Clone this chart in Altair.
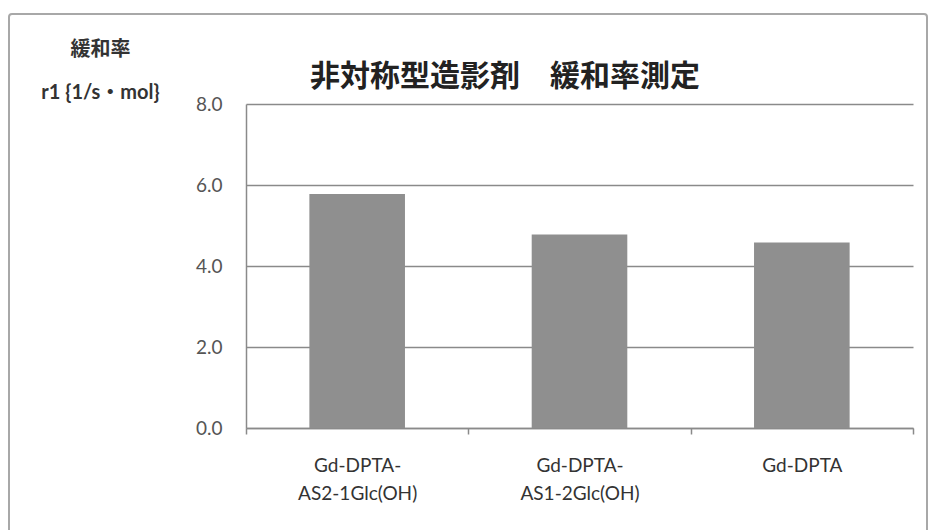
import altair as alt
import pandas as pd

categories = ["Gd-DPTA-AS2-1Glc(OH)", "Gd-DPTA-AS1-2Glc(OH)", "Gd-DPTA"]
values = [5.78, 4.78, 4.58]
y_ticks = [0, 2, 4, 6, 8]
chart_title = "非対称型造影剤　緩和率測定"

df = pd.DataFrame({"cat": categories, "r1": values})

CJK = "Noto Sans CJK JP"
LAT = "Lato, Noto Sans CJK JP"
L, T = 246, 104
W, H = 667, 324

bars = alt.Chart(df).mark_bar(color="#8f8f8f", width=alt.RelativeBandSize(0.43)).encode(
    x=alt.X(
        "cat:N",
        sort=categories,
        scale=alt.Scale(paddingInner=0, paddingOuter=0),
        axis=alt.Axis(
            title=None,
            labelAngle=0,
            labelExpr="datum.label == 'Gd-DPTA' ? 'Gd-DPTA' : [slice(datum.label, 0, 8), slice(datum.label, 8)]",
            labelFont=LAT,
            labelFontSize=19,
            labelColor="#333333",
            labelPadding=22,
            labelLineHeight=28,
            labelBaseline="top",
            tickBand="extent",
            tickSize=6,
            tickWidth=1.5,
            tickColor="#8a8a8a",
            domainColor="#8a8a8a",
            domainWidth=1.5,
            grid=False,
        ),
    ),
    y=alt.Y(
        "r1:Q",
        scale=alt.Scale(domain=[0, 8]),
        axis=alt.Axis(
            values=y_ticks,
            format=".1f",
            title=["緩和率", "r1 {1/s・mol}"],
            titleAngle=0,
            titleAlign="center",
            titleBaseline="top",
            titleX=-146,
            titleY=-65,
            titleFont=LAT,
            titleFontSize=20,
            titleFontWeight="bold",
            titleColor="#333333",
            titleLineHeight=43,
            labelFont=LAT,
            labelFontSize=19,
            labelColor="#555555",
            labelPadding=24,
            ticks=False,
            domainColor="#8a8a8a",
            domainWidth=1.5,
            grid=True,
            gridColor="#8a8a8a",
            gridWidth=1.5,
        ),
    ),
)

frame = alt.Chart(alt.Data(values=[{"k": 1}])).mark_rect(
    fill=None, stroke="#a8a8a8", strokeWidth=2, cornerRadius=3
).encode(
    x=alt.value(9 - L),
    x2=alt.value(927 - L),
    y=alt.value(14 - T),
    y2=alt.value(560 - T),
)

title = alt.Chart(alt.Data(values=[{"t": chart_title}])).mark_text(
    font=CJK, fontSize=30, fontWeight="bold", color="#222222",
    align="center", baseline="middle",
).encode(
    text="t:N",
    x=alt.value(505 - L),
    y=alt.value(77 - T),
)

chart = alt.layer(frame, bars, title).properties(
    width=W,
    height=H,
    background="white",
    padding={"left": L, "top": T, "right": 930 - L - W, "bottom": 530 - T - H},
    autosize=alt.AutoSizeParams(type="none"),
).configure_view(stroke=None)

chart.save("out.html", embed_options={"renderer": "svg", "actions": False})
